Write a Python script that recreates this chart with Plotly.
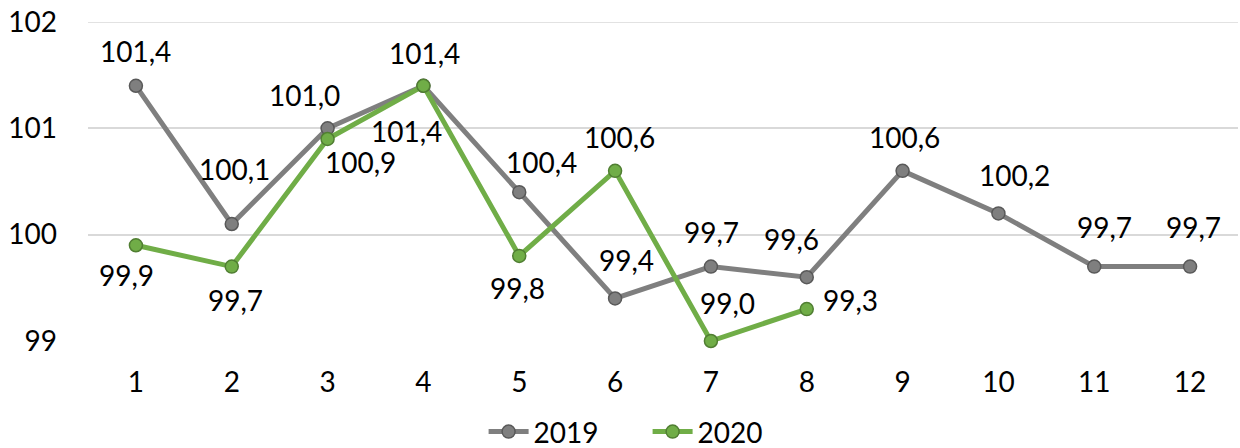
import plotly.graph_objects as go

months = [1, 2, 3, 4, 5, 6, 7, 8, 9, 10, 11, 12]
month_labels = ["1", "2", "3", "4", "5", "6", "7", "8", "9", "10", "11", "12"]
v2019 = [101.4, 100.1, 101.0, 101.4, 100.4, 99.4, 99.7, 99.6, 100.6, 100.2, 99.7, 99.7]
v2020 = [99.9, 99.7, 100.9, 101.4, 99.8, 100.6, 99.0, 99.3]
y_ticks = [99, 100, 101, 102]

# label offsets (pixels) relative to each point
off2019 = [(0, 35), (3, 55), (-23, 33), (1, 33), (22, 30), (11, 38),
           (1, 35), (-15, 38), (2, 34), (16, 38), (10, 40), (3, 40)]
off2020 = [(-9, -30), (4, -33), (33, -23), (-17, -45), (-2, -32),
           (4, 34), (17, 38), (44, 9)]

FONT = "Lato"
GRID = "#d9d9d9"
fig = go.Figure()
fig.add_trace(go.Scatter(
    x=months, y=v2019, name="2019", mode="lines+markers", cliponaxis=False,
    line=dict(color="#7f7f7f", width=5),
    marker=dict(size=13, color="#7f7f7f", line=dict(color="#595959", width=1.5)),
))
fig.add_trace(go.Scatter(
    x=months[:len(v2020)], y=v2020, name="2020", mode="lines+markers", cliponaxis=False,
    line=dict(color="#70ad47", width=5),
    marker=dict(size=13, color="#70ad47", line=dict(color="#507e32", width=1.5)),
))

def fmt(v):
    return f"{v:.1f}".replace(".", ",")

ann = []
for m, v, (dx, dy) in zip(months, v2019, off2019):
    ann.append(dict(x=m, y=v, text=fmt(v), showarrow=False, xshift=dx, yshift=dy,
                    font=dict(family=FONT, size=28, color="#000000")))
for m, v, (dx, dy) in zip(months, v2020, off2020):
    ann.append(dict(x=m, y=v, text=fmt(v), showarrow=False, xshift=dx, yshift=dy,
                    font=dict(family=FONT, size=28, color="#000000")))

# top gridline (plotly omits grid lines on the range edge)
shapes = [dict(type="line", xref="paper", x0=0, x1=1, yref="y",
               y0=y_ticks[-1], y1=y_ticks[-1], layer="below",
               line=dict(color=GRID, width=1.5))]

fig.update_layout(
    width=1240, height=448,
    margin=dict(l=88, r=2, t=22, b=107, autoexpand=False),
    paper_bgcolor="white", plot_bgcolor="white",
    font=dict(family=FONT, size=28, color="#000000"),
    annotations=ann, shapes=shapes,
    showlegend=True,
    legend=dict(orientation="h", x=0.344, xanchor="left", y=-0.285, yanchor="middle",
                font=dict(family=FONT, size=28, color="#000000"),
                itemwidth=40, entrywidth=109),
    xaxis=dict(range=[0.5, 12.5], tickvals=months, ticktext=month_labels,
               showgrid=False, zeroline=False, showline=False, automargin=False,
               ticks="", ticklabelstandoff=22, tickfont=dict(size=28)),
    yaxis=dict(range=[99, 102], tickvals=y_ticks, ticktext=[str(t) for t in y_ticks],
               showgrid=True, gridcolor=GRID, gridwidth=1.5, zeroline=False,
               showline=False, ticks="", automargin=False,
               ticklabelstandoff=30, tickfont=dict(size=28)),
)
fig.write_html("out.html", config={"displayModeBar": False},
               post_script="document.body.style.margin='0';")
